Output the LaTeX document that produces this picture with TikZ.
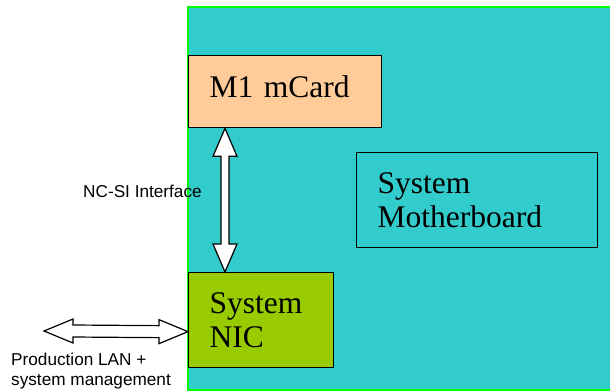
\documentclass[tikz,border=0pt]{standalone}
\usepackage{fontspec}
\setmainfont{Liberation Serif}
\setsansfont{Liberation Sans}
\usepackage{tikz}
\usetikzlibrary{calc,positioning}
\usepackage{xcolor}
\definecolor{BoardTeal}{HTML}{33CCCC}
\definecolor{CardPeach}{HTML}{FFCC99}
\definecolor{NicLime}{HTML}{99CC00}
\definecolor{EdgeGreen}{HTML}{00FF00}
\tikzset{
  cardbox/.style={draw=black, line width=1.3pt, anchor=north west,
    inner xsep=21pt, inner ysep=4pt, align=left,
    font=\fontsize{31.5}{34}\selectfont, fill=#1},
  cardbox/.default={none},
  hollowarr/.style={draw=black, fill=white, line width=1.2pt, line join=miter},
  sidelabel/.style={font=\sffamily\fontsize{17.2}{20}\selectfont, inner sep=0pt, align=left},
}

\begin{document}
\begin{tikzpicture}[x=1pt, y=-1pt]
  \useasboundingbox (0,0) rectangle (610,391);
  % board background
  \draw[fill=BoardTeal, draw=EdgeGreen, line width=2pt] (188,6.5) rectangle (614,389.5);

  \node[cardbox=CardPeach, minimum width=193pt, minimum height=72pt,
    text width=151pt, text depth=9.5pt] (mcard) at (188,55) {M1 mCard};
  \node[cardbox, minimum width=241pt, minimum height=95pt, text width=199pt]
    (board) at (356,152) {System\\Motherboard};
  \node[cardbox=NicLime, minimum width=145pt, minimum height=95pt, text width=103pt]
    (nic) at (188,272) {System\\NIC};

  \node[sidelabel, anchor=base west] (ncsi) at (83,197) {NC-SI Interface};
  \node[sidelabel, anchor=north west] (lan) at (11,352.5) {Production LAN +\\system management};

  % NC-SI double arrow
  \coordinate (ncup) at ($(mcard.south west)+(37,0)$);
  \coordinate (ncdown) at ($(nic.north west)+(37,0)$);
  \draw[hollowarr] (ncup) -- ++(12,28) -- ++(-8,0) -- ($(ncdown)+(4,-28)$) -- ++(8,0)
    -- (ncdown) -- ++(-12,-28) -- ++(8,0) -- ($(ncup)+(-4,28)$) -- ++(-8,0) -- cycle;

  % LAN double arrow
  \coordinate (lanend) at (44,331);
  \coordinate (lannic) at ($(nic.west)+(0,11.5)$);
  \draw[hollowarr] (lanend) -- ++(29,-12) -- ++(0,6) -- ($(lannic)+(-29,-6)$) -- ++(0,-6)
    -- (lannic) -- ++(-29,12) -- ++(0,-6) -- ($(lanend)+(29,6)$) -- ++(0,6) -- cycle;
\end{tikzpicture}
\end{document}
